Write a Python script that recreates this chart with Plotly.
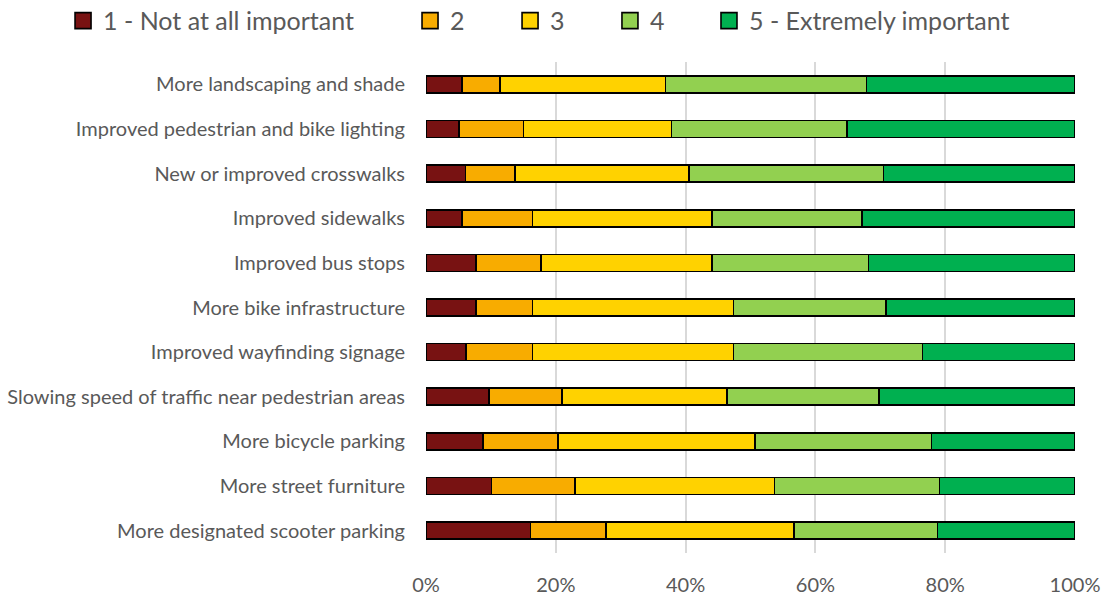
import plotly.graph_objects as go

categories = [
    "More landscaping and shade",
    "Improved pedestrian and bike lighting",
    "New or improved crosswalks",
    "Improved sidewalks",
    "Improved bus stops",
    "More bike infrastructure",
    "Improved wayfinding signage",
    "Slowing speed of traffic near pedestrian areas",
    "More bicycle parking",
    "More street furniture",
    "More designated scooter parking",
]

series_names = ["1 - Not at all important", "2", "3", "4", "5 - Extremely important"]

not_at_all = [5.5, 5.1, 6.1, 5.5, 7.7, 7.7, 6.2, 9.7, 8.8, 10.1, 16.1]
level_2 = [5.9, 9.9, 7.6, 10.9, 10.0, 8.7, 10.2, 11.3, 11.5, 12.9, 11.6]
level_3 = [25.5, 22.8, 26.8, 27.7, 26.4, 31.0, 31.0, 25.4, 30.4, 30.7, 29.0]
level_4 = [31.0, 27.1, 30.0, 23.1, 24.1, 23.5, 29.1, 23.4, 27.2, 25.4, 22.1]
extremely = [32.1, 35.1, 29.5, 32.8, 31.8, 29.1, 23.5, 30.2, 22.1, 20.9, 21.2]

x_ticks = [0, 20, 40, 60, 80, 100]
x_tick_labels = ["0%", "20%", "40%", "60%", "80%", "100%"]

colors = ["#781212", "#F8AC00", "#FFD200", "#92D050", "#00B050"]
values = [not_at_all, level_2, level_3, level_4, extremely]

FONT = "Lato"
TXT = "#595959"

fig = go.Figure()
for name, vals, col in zip(series_names, values, colors):
    fig.add_trace(go.Bar(
        y=categories, x=vals, name=name, orientation="h",
        marker=dict(color=col, line=dict(color="black", width=1.6)),
        showlegend=False, hoverinfo="x+y+name",
    ))

# legend proxies (no data), each in its own legend for placement
legend_lefts = [0.0571, 0.3714, 0.4620, 0.5525, 0.6422]
for i, (name, col) in enumerate(zip(series_names, colors)):
    fig.add_trace(go.Scatter(
        x=[None], y=[None], mode="markers", name=name,
        marker=dict(symbol="square", size=16, color=col,
                    line=dict(color="black", width=1.6)),
        legend="legend" if i == 0 else f"legend{i+1}",
        showlegend=True,
    ))

legend_common = dict(
    orientation="h", xref="container", yref="container",
    y=0.965, yanchor="middle", xanchor="left",
    font=dict(family=FONT, size=25, color=TXT),
    bgcolor="rgba(0,0,0,0)", itemclick=False, itemdoubleclick=False,
)
layout_legends = {}
for i, lx in enumerate(legend_lefts):
    key = "legend" if i == 0 else f"legend{i+1}"
    layout_legends[key] = dict(legend_common, x=lx)

fig.update_layout(
    barmode="stack",
    bargap=0.62,
    width=1104, height=597,
    margin=dict(l=426, r=29, t=62, b=44, autoexpand=False),
    paper_bgcolor="white", plot_bgcolor="white",
    font=dict(family=FONT, color=TXT),
    xaxis=dict(
        range=[0, 100], tickvals=x_ticks, ticktext=x_tick_labels,
        showgrid=True, gridcolor="#D9D9D9", gridwidth=1.5,
        zeroline=False, showline=False, automargin=False,
        tickfont=dict(family=FONT, size=20, color=TXT),
        ticklabelstandoff=18,
    ),
    yaxis=dict(
        autorange="reversed", showgrid=False, zeroline=False, showline=False,
        automargin=False,
        tickfont=dict(family=FONT, size=20, color=TXT),
        ticklabelstandoff=20,
    ),
    **layout_legends,
)

fig.write_html(
    "out.html",
    config={"displayModeBar": False},
    post_script="document.body.style.margin='0px';document.body.style.overflow='hidden';",
)
